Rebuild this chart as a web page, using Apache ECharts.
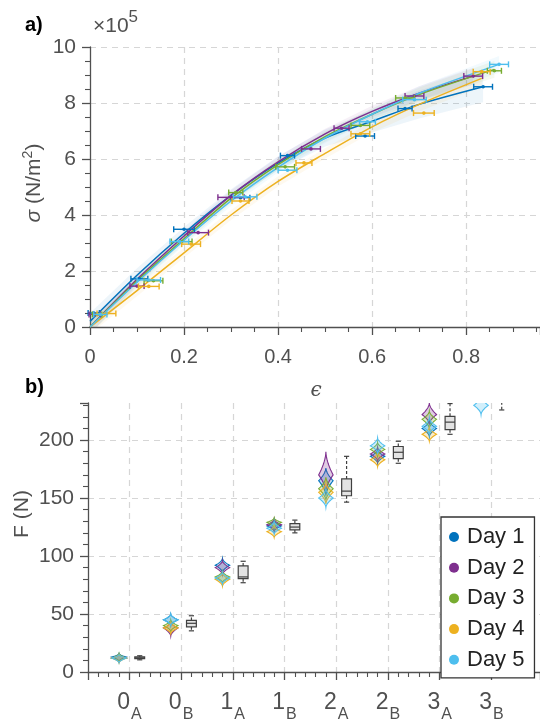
<!DOCTYPE html>
<html>
<head>
<meta charset="utf-8">
<script src="https://cdn.jsdelivr.net/npm/echarts@6/dist/echarts.min.js"></script>
<style>
    html, body { margin: 0; padding: 0; background: #fff; }
    #chart { width: 540px; height: 724px; }
</style>
</head>
<body>
<div id="chart"></div>
<script>
/* ========== 数据 ========== */

const dayNames = ["Day 1", "Day 2", "Day 3", "Day 4", "Day 5"];
const dayColors = ["#0072BD", "#7E2F8E", "#77AC30", "#EDB120", "#4DBEEE"];

// a) 拟合曲线 [ε, σ (×10^5 N/m²), 置信带半宽]
const fitDay1 = [[0, 0.2, 0.3], [0.1, 1.85, 0.25], [0.2, 3.35, 0.22], [0.3, 4.7, 0.22], [0.4, 5.85, 0.25], [0.5, 6.75, 0.3], [0.6, 7.35, 0.4], [0.7, 7.95, 0.5], [0.836, 8.58, 0.55]];
const fitDay2 = [[0, 0, 0.25], [0.1, 1.7, 0.2], [0.2, 3.25, 0.18], [0.3, 4.7, 0.18], [0.4, 5.9, 0.18], [0.5, 6.9, 0.18], [0.6, 7.7, 0.2], [0.7, 8.35, 0.25], [0.815, 8.96, 0.3]];
const fitDay3 = [[0, 0, 0.25], [0.1, 1.65, 0.2], [0.2, 3.15, 0.18], [0.3, 4.6, 0.18], [0.4, 5.8, 0.18], [0.5, 6.8, 0.18], [0.6, 7.6, 0.2], [0.7, 8.3, 0.25], [0.86, 9.2, 0.3]];
const fitDay4 = [[0, 0, 0.25], [0.1, 1.3, 0.2], [0.2, 2.65, 0.18], [0.3, 4.0, 0.18], [0.4, 5.2, 0.18], [0.5, 6.2, 0.18], [0.6, 7.15, 0.2], [0.7, 7.95, 0.25], [0.833, 8.88, 0.3]];
const fitDay5 = [[0, 0, 0.25], [0.1, 1.6, 0.2], [0.2, 3.1, 0.18], [0.3, 4.5, 0.18], [0.4, 5.7, 0.18], [0.5, 6.75, 0.18], [0.6, 7.6, 0.2], [0.7, 8.35, 0.25], [0.87, 9.38, 0.3]];

// a) 测量点 [ε, σ, ε 误差]
const errDay1 = [[0.008, 0.5, 0.012], [0.105, 1.72, 0.018], [0.2, 3.49, 0.022], [0.32, 4.62, 0.02], [0.42, 6.12, 0.015], [0.585, 6.82, 0.02], [0.67, 7.8, 0.015], [0.836, 8.58, 0.02]];
const errDay2 = [[0.01, 0.45, 0.012], [0.1, 1.46, 0.015], [0.23, 3.37, 0.022], [0.3, 4.63, 0.028], [0.47, 6.36, 0.02], [0.535, 7.1, 0.016], [0.69, 8.25, 0.02], [0.815, 8.96, 0.02]];
const errDay3 = [[0.015, 0.45, 0.01], [0.135, 1.65, 0.02], [0.195, 3.05, 0.022], [0.31, 4.8, 0.015], [0.415, 5.72, 0.02], [0.575, 7.2, 0.02], [0.67, 8.18, 0.02], [0.86, 9.15, 0.015]];
const errDay4 = [[0.035, 0.48, 0.02], [0.125, 1.45, 0.022], [0.215, 2.96, 0.02], [0.32, 4.5, 0.018], [0.455, 5.86, 0.017], [0.575, 6.9, 0.02], [0.71, 7.64, 0.022], [0.833, 9.12, 0.018]];
const errDay5 = [[0.022, 0.45, 0.014], [0.125, 1.68, 0.025], [0.19, 3.05, 0.02], [0.33, 4.65, 0.025], [0.42, 5.6, 0.02], [0.59, 7.33, 0.017], [0.69, 8.12, 0.025], [0.87, 9.38, 0.02]];

// b) 类别标签 (数字 + 下标)
const catNum = ["0", "0", "1", "1", "2", "2", "3", "3"];
const catSub = ["A", "B", "A", "B", "A", "B", "A", "B"];

// b) 小提琴 [最小, 峰值, 最大] (N)
const violinDay1 = [[9, 13, 16], [40, 45, 50], [86, 92, 98], [121, 126, 131], [152, 165, 176], [180, 186, 192], [203, 210, 217], null];
const violinDay2 = [[9, 12, 15], [31, 38, 43], [84, 90, 96], [122, 127, 132], [155, 170, 190], [182, 188, 194], [214, 222, 232], null];
const violinDay3 = [[9, 12, 16], [35, 40, 45], [77, 82, 87], [124, 129, 133], [148, 158, 168], [186, 192, 198], [210, 218, 225], null];
const violinDay4 = [[8, 12, 15], [33, 38, 43], [74, 80, 85], [116, 121, 126], [145, 155, 163], [177, 183, 189], [199, 205, 211], null];
const violinDay5 = [[8, 12, 15], [40, 45, 50], [76, 81, 86], [119, 124, 130], [142, 150, 158], [189, 195, 202], [205, 212, 219], [222, 230, 238]];

// b) 箱线图 [下须, Q1, 中位数, Q3, 上须]
const boxStats = [
    [10.5, 11.5, 12.2, 13, 14],
    [35.5, 39, 42, 44.5, 48.5],
    [77, 80.5, 82, 91.5, 95.5],
    [120, 122.5, 125, 128, 131],
    [146.5, 152, 156, 166.5, 186],
    [180, 184, 189.5, 194.5, 199],
    [205, 209, 215.5, 220.5, 231.5],
    [226, 233, 236, 238, 240],
];

const fitDays = [fitDay1, fitDay2, fitDay3, fitDay4, fitDay5];
const errDays = [errDay1, errDay2, errDay3, errDay4, errDay5];
const violinDays = [violinDay1, violinDay2, violinDay3, violinDay4, violinDay5];

/* ========== 样式 ========== */

const FONT = "Liberation Sans";
const AXIS_COLOR = "#505050";
const GRID_LINE = { show: true, lineStyle: { color: "#d6d6d6", type: [6, 5], width: 1.2 } };
const VIOLIN_SHIFT = -0.2, VIOLIN_HALF = 0.14;
const BOX_SHIFT = 0.2, BOX_HALF = 0.095, CAP_HALF = 0.05;

function baseAxis(extra) {
    return Object.assign({
        type: "value",
        axisLine: { show: true, onZero: false, lineStyle: { color: AXIS_COLOR, width: 1.3 } },
        axisTick: { show: true, inside: false, length: 8, lineStyle: { color: AXIS_COLOR, width: 1.3 } },
        minorTick: { show: true, length: 5, lineStyle: { color: AXIS_COLOR, width: 1.1 } },
        axisLabel: { color: AXIS_COLOR, fontFamily: FONT, fontSize: 20 },
        splitLine: GRID_LINE,
    }, extra);
}

/* ========== 自定义绘制 ========== */

function bandRender(fit, color) {
    return (params, api) => {
        if (params.dataIndex !== 0) return null;
        const upper = fit.map(p => api.coord([p[0], p[1] + p[2]]));
        const lower = fit.map(p => api.coord([p[0], p[1] - p[2]])).reverse();
        return {
            type: "polygon", silent: true,
            shape: { points: upper.concat(lower) },
            style: { fill: color, opacity: 0.07 },
        };
    };
}

function errRender(color) {
    return (params, api) => {
        const e = api.value(0), s = api.value(1), d = api.value(2);
        const l = api.coord([e - d, s]), r = api.coord([e + d, s]), c = api.coord([e, s]);
        const st = { stroke: color, lineWidth: 1.4 };
        return {
            type: "group",
            children: [
                { type: "line", shape: { x1: l[0], y1: l[1], x2: r[0], y2: r[1] }, style: st },
                { type: "line", shape: { x1: l[0], y1: l[1] - 3, x2: l[0], y2: l[1] + 3 }, style: st },
                { type: "line", shape: { x1: r[0], y1: r[1] - 3, x2: r[0], y2: r[1] + 3 }, style: st },
                { type: "circle", shape: { cx: c[0], cy: c[1], r: 1.8 }, style: { fill: color } },
            ],
        };
    };
}

function violinRender(color) {
    return (params, api) => {
        const x0 = api.value(0) + VIOLIN_SHIFT;
        const lo = api.value(1), mid = api.value(2), hi = api.value(3);
        const right = [], left = [];
        const N = 14;
        for (let k = 0; k <= N; k++) {
            const y = lo + (mid - lo) * k / N;
            const hw = VIOLIN_HALF * Math.pow(k / N, 1.7);
            right.push(api.coord([x0 + hw, y]));
            left.push(api.coord([x0 - hw, y]));
        }
        for (let k = N - 1; k >= 0; k--) {
            const y = mid + (hi - mid) * (N - k) / N;
            const hw = VIOLIN_HALF * Math.pow(k / N, 1.7);
            right.push(api.coord([x0 + hw, y]));
            left.push(api.coord([x0 - hw, y]));
        }
        return {
            type: "polygon",
            shape: { points: right.concat(left.reverse()) },
            style: { fill: echarts.color.modifyAlpha(color, 0.25), stroke: color, lineWidth: 1.1 },
        };
    };
}

function boxRender(params, api) {
    const x = api.value(0) + BOX_SHIFT;
    const lw = api.value(1), q1 = api.value(2), med = api.value(3), q3 = api.value(4), uw = api.value(5);
    const tl = api.coord([x - BOX_HALF, q3]), br = api.coord([x + BOX_HALF, q1]);
    const c = (xx, yy) => api.coord([xx, yy]);
    const solid = { stroke: "#404040", lineWidth: 1.2 };
    const dash = { stroke: "#404040", lineWidth: 1.2, lineDash: [3, 2] };
    const seg = (a, b, st) => ({ type: "line", shape: { x1: a[0], y1: a[1], x2: b[0], y2: b[1] }, style: st });
    return {
        type: "group",
        children: [
            seg(c(x, q3), c(x, uw), dash),
            seg(c(x, q1), c(x, lw), dash),
            seg(c(x - CAP_HALF, uw), c(x + CAP_HALF, uw), solid),
            seg(c(x - CAP_HALF, lw), c(x + CAP_HALF, lw), solid),
            { type: "rect", shape: { x: tl[0], y: tl[1], width: br[0] - tl[0], height: br[1] - tl[1] },
              style: { fill: "#e3e3e3", stroke: "#404040", lineWidth: 1.2 } },
            seg(c(x - BOX_HALF, med), c(x + BOX_HALF, med), solid),
        ],
    };
}

/* ========== 系列 ========== */

const series = [];
dayNames.forEach((name, d) => {
    const color = dayColors[d];
    series.push({
        name, type: "custom", xAxisIndex: 0, yAxisIndex: 0, clip: true, silent: true, z: 1,
        itemStyle: { color }, data: fitDays[d], renderItem: bandRender(fitDays[d], color),
    });
    series.push({
        name, type: "line", xAxisIndex: 0, yAxisIndex: 0, z: 2, smooth: 0.3,
        showSymbol: false, itemStyle: { color }, lineStyle: { color, width: 1.5 },
        data: fitDays[d].map(p => [p[0], p[1]]),
    });
    series.push({
        name, type: "custom", xAxisIndex: 0, yAxisIndex: 0, z: 3,
        itemStyle: { color }, data: errDays[d], renderItem: errRender(color),
    });
    series.push({
        name, type: "custom", xAxisIndex: 1, yAxisIndex: 1, clip: true, z: 2,
        itemStyle: { color },
        data: violinDays[d].map((v, i) => v ? [i, v[0], v[1], v[2]] : null).filter(Boolean),
        renderItem: violinRender(color),
    });
});
series.push({
    name: "box", type: "custom", xAxisIndex: 1, yAxisIndex: 1, clip: true, z: 3,
    data: boxStats.map((b, i) => [i].concat(b)), renderItem: boxRender,
});

/* ========== 图表 ========== */

const chart = echarts.init(document.getElementById("chart"));
chart.setOption({
    animation: false,
    backgroundColor: "#fff",
    grid: [
        { left: 90, top: 47, right: 0, height: 280 },
        { left: 88, top: 403, right: 0, height: 269 },
    ],
    xAxis: [
        baseAxis({
            gridIndex: 0, min: 0, max: 0.957, interval: 0.2,
            minorTick: { show: true, splitNumber: 4, length: 5, lineStyle: { color: AXIS_COLOR, width: 1.1 } },
            axisLabel: { color: AXIS_COLOR, fontFamily: FONT, fontSize: 20, margin: 20, showMaxLabel: false },
            splitLine: Object.assign({ showMinLine: false, showMaxLine: false }, GRID_LINE),
        }),
        baseAxis({
            gridIndex: 1, min: -0.8, max: 7.94, splitNumber: 8,
            minorTick: { show: true, splitNumber: 5, length: 5, lineStyle: { color: AXIS_COLOR, width: 1.1 } },
            axisLabel: {
                color: AXIS_COLOR, fontFamily: FONT, margin: 19, showMinLabel: false, showMaxLabel: false,
                formatter: v => {
                    const i = Math.round(v);
                    if (Math.abs(v - i) > 1e-6 || i < 0 || i > 7) return "";
                    return `{n|${catNum[i]}}{s|${catSub[i]}}`;
                },
                rich: {
                    n: { fontSize: 23, lineHeight: 23, verticalAlign: "top", color: AXIS_COLOR, fontFamily: FONT },
                    s: { fontSize: 16, lineHeight: 48, verticalAlign: "middle", padding: [0, 0, 0, 1], color: AXIS_COLOR, fontFamily: FONT },
                },
            },
            splitLine: Object.assign({ showMinLine: false, showMaxLine: false }, GRID_LINE),
        }),
    ],
    yAxis: [
        baseAxis({
            gridIndex: 0, min: 0, max: 10, interval: 2,
            minorTick: { show: true, splitNumber: 4, length: 5, lineStyle: { color: AXIS_COLOR, width: 1.1 } },
            axisLabel: { color: AXIS_COLOR, fontFamily: FONT, fontSize: 21, margin: 14 },
            splitLine: Object.assign({ showMinLine: false }, GRID_LINE),
        }),
        baseAxis({
            gridIndex: 1, min: 0, max: 232, interval: 50,
            minorTick: { show: true, splitNumber: 5, length: 5, lineStyle: { color: AXIS_COLOR, width: 1.1 } },
            axisLabel: { color: AXIS_COLOR, fontFamily: FONT, fontSize: 21, margin: 14, showMaxLabel: false },
            splitLine: Object.assign({ showMinLine: false, showMaxLine: false }, GRID_LINE),
        }),
    ],
    legend: {
        data: dayNames, orient: "vertical", left: 441, top: 517,
        padding: [9, 10, 7, 8], itemGap: 8.7, itemWidth: 16, itemHeight: 10, icon: "circle",
        backgroundColor: "#fff", borderColor: "#333", borderWidth: 1.3, borderRadius: 0,
        textStyle: { fontFamily: FONT, fontSize: 22, lineHeight: 20, color: "#222" },
    },
    graphic: [
        { type: "text", x: 25, y: 25, style: { text: "a)", font: `bold 20px ${FONT}`, fill: "#000", verticalAlign: "middle" } },
        { type: "text", x: 25, y: 387, style: { text: "b)", font: `bold 20px ${FONT}`, fill: "#000", verticalAlign: "middle" } },
        {
            type: "text", x: 93, y: 9,
            style: {
                text: "{m|×10}{s|5}", fill: AXIS_COLOR, verticalAlign: "top",
                rich: {
                    m: { fontSize: 21, lineHeight: 28, verticalAlign: "bottom", fill: AXIS_COLOR, fontFamily: FONT },
                    s: { fontSize: 17, lineHeight: 17, verticalAlign: "top", fill: AXIS_COLOR, fontFamily: FONT },
                },
            },
        },
        { type: "text", x: 316, y: 391, style: { text: "ϵ", font: `italic 20px DejaVu Serif`, fill: AXIS_COLOR, align: "center", verticalAlign: "middle" } },
        {
            type: "text", x: 33, y: 183, rotation: Math.PI / 2,
            style: {
                text: "{i|σ}{m| (N/m}{s|2}{m|)}", fill: AXIS_COLOR, align: "center", verticalAlign: "middle",
                rich: {
                    i: { fontStyle: "italic", fontSize: 21, lineHeight: 24, verticalAlign: "bottom", fontFamily: FONT, fill: AXIS_COLOR },
                    m: { fontSize: 21, lineHeight: 24, verticalAlign: "bottom", fontFamily: FONT, fill: AXIS_COLOR },
                    s: { fontSize: 14, lineHeight: 14, verticalAlign: "top", fontFamily: FONT, fill: AXIS_COLOR },
                },
            },
        },
        { type: "text", x: 22, y: 514, rotation: Math.PI / 2, style: { text: "F (N)", font: `21px ${FONT}`, fill: AXIS_COLOR, align: "center", verticalAlign: "middle" } },
    ],
    series,
});
</script>
</body>
</html>
